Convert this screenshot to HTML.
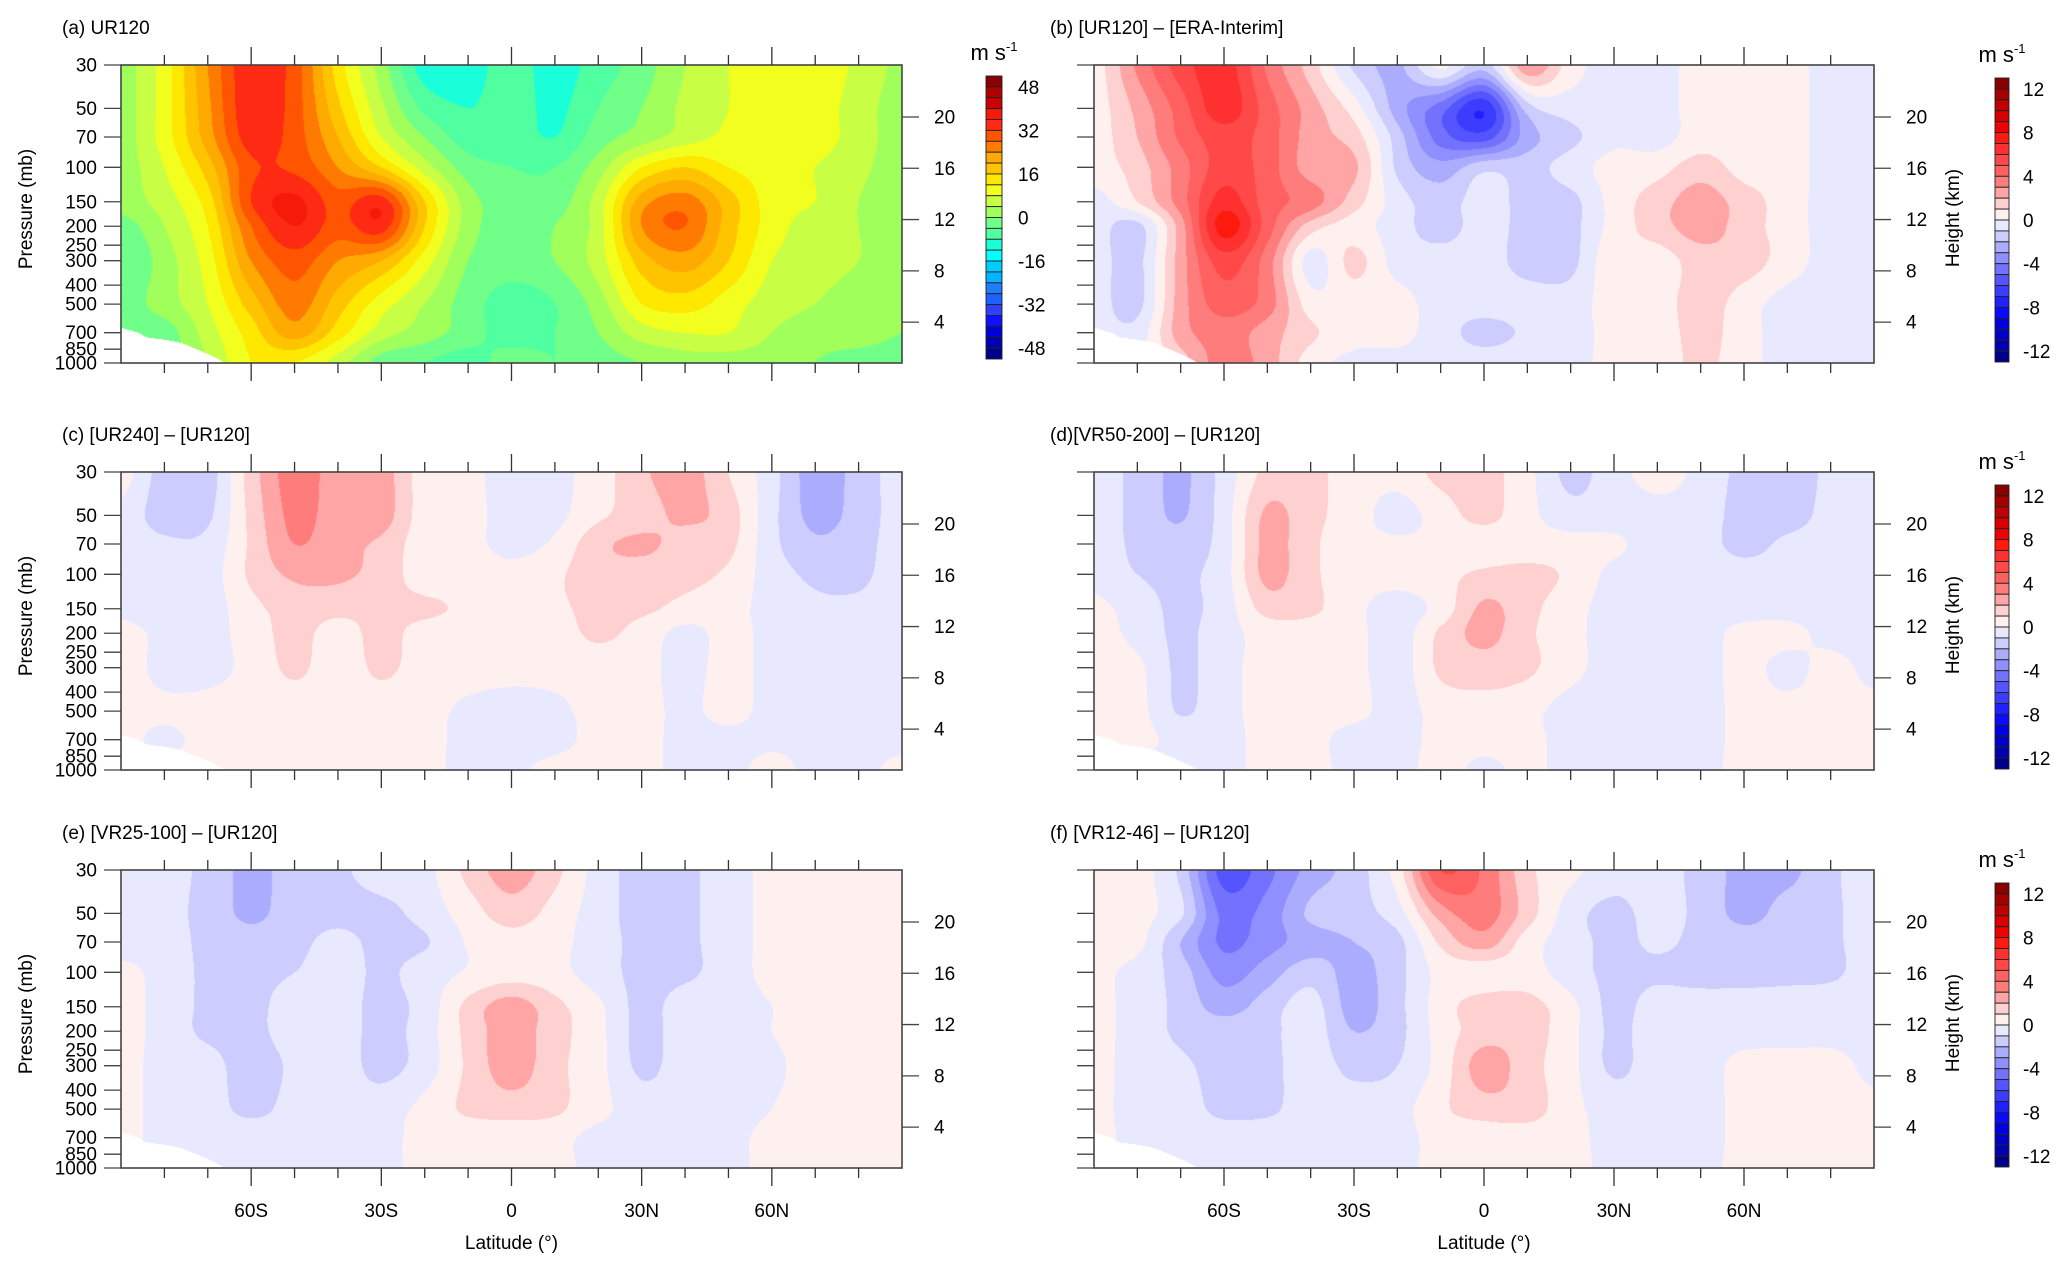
<!DOCTYPE html>
<html><head><meta charset="utf-8">
<style>
html,body{margin:0;padding:0;background:#fff;}
#root{position:relative;width:2067px;height:1270px;overflow:hidden;background:#fff;font-family:"Liberation Sans",sans-serif;}
canvas{position:absolute;}
svg{position:absolute;left:0;top:0;}
</style></head>
<body>
<div id="root">
<svg id="ov" width="2067" height="1270"></svg>
</div>
<script>
// ---- data ----
const lats = [-90,-80,-70,-60,-50,-40,-30,-20,-10,0,10,20,30,40,50,60,70,80,90];
const levels = [30,50,70,100,150,200,300,500,700,1000];
const pTicks = [30,50,70,100,150,200,250,300,400,500,700,850,1000];
const hTicks = [4,8,12,16,20];
const latTicks = [-80,-70,-60,-50,-40,-30,-20,-10,0,10,20,30,40,50,60,70,80];
const latMajor = [-60,-30,0,30,60];
const latLabels = ['60S','30S','0','30N','60N'];
const cbLabelsA = [48,32,16,0,-16,-32,-48];
const cbLabelsB = [12,8,4,0,-4,-8,-12];
const maskLats = [-90,-86,-84,-80,-76,-72,-70,-67,-66];
const maskP = [660,700,740,760,790,860,900,970,1005];
const colorsA = ['#8b0000','#b00000','#cc0000','#f51a0a','#ff2a14','#ff5500','#ff7a00','#ffaa00','#ffc400','#ffe800','#f2ff1e','#c8ff45','#a0ff5a','#70ff88','#50ffa0','#1affd9','#00ffff','#00ccff','#00b4ff','#1e7cff','#2060ff','#3040ff','#1010ff','#0000d8','#0000b0','#000090'];
const colorsB = ['#880000','#a50000','#c00000','#d80000','#f00000','#ff1a10','#ff3030','#ff4848','#ff6060','#ff7c7c','#ffa5a5','#ffd0d0','#fff0f0','#e8e8ff','#ccccff','#acacff','#8f8fff','#7272ff','#5555ff','#3c3cff','#2020ff','#0a0aff','#0000e0','#0000c8','#0000b0','#000088'];

const fieldA = [
[2,10,24,35,30,14,2,-10,-10,-6,-10,-6,-2,4,8,10,11,7,3],
[2,10,23,35,30,17,5,-5,-8,-6,-9,-4,0,5,8,10,10,6,2],
[2,10,22,34,30,20,8,0,-6,-6,-8,-2,2,6,9,10,10,6,2],
[2,8,18,31,31,24,16,6,-2,-4,-4,2,12,16,12,10,8,5,2],
[2,6,14,32,37,30,34,16,2,-2,-2,6,22,26,18,10,8,4,2],
[-2,4,12,28,36,30,34,16,2,-2,0,6,24,28,18,10,6,4,2],
[-4,2,10,24,30,24,20,10,0,-2,0,6,18,22,16,8,6,4,2],
[-2,2,8,18,26,18,10,4,-2,-6,-4,2,12,14,10,6,4,2,2],
[-2,-2,6,14,22,14,6,2,-2,-6,-4,0,6,8,8,4,2,2,0],
[-2,-2,4,12,12,6,-2,-4,-6,-2,-4,-2,0,2,2,2,0,-2,-2]];
const fieldB = [
[0.5,3.2,5.5,6.5,3.8,1.5,-1.2,-2.2,0.3,-1.5,2.8,0.5,-0.5,-0.5,0.5,0.5,0.5,-0.5,-0.5],
[0.5,2.3,4.5,6.6,4.5,2.5,0.5,-2.5,-4.5,-6.8,-1.5,-0.5,-0.5,-0.5,0.5,0.5,0.5,-0.5,-0.5],
[0.5,2.0,4.2,5.5,4.5,2.5,1.5,-1.5,-4.5,-5.5,-2.5,-1.3,-0.3,-0.4,0.5,0.5,0.5,-0.5,-0.5],
[0.5,1.5,3.5,5.5,4.5,2.5,2.2,-1.2,-2.6,-1.3,-1.4,-0.5,0.4,0.6,1.5,0.6,0.5,-0.5,-0.5],
[-0.4,1.0,3.5,6.5,4.5,3.5,1.5,-0.5,-1.5,-0.5,-1.4,-1.3,0.4,1.5,2.5,1.5,0.5,-0.4,-0.4],
[-0.5,-1.3,2.5,7.5,4.5,1.5,0.5,-0.5,-1.5,-0.5,-1.4,-1.3,0.4,1.5,2.5,1.5,0.5,-0.4,-0.4],
[-0.5,-1.3,2.5,5.5,3.5,-0.4,1.3,-0.4,-0.5,-0.5,-1.4,-1.3,0.8,0.5,1.5,1.5,0.5,-0.4,-0.4],
[-0.5,-1.3,2.5,4.5,3.5,0.5,0.4,0.4,-0.5,-0.5,-0.5,-0.5,0.5,0.5,1.5,0.5,-0.4,-0.4,-0.4],
[-0.5,-0.6,2.5,3.5,2.5,1.2,0.4,0.3,-0.5,-1.4,-0.8,-0.4,0.3,0.4,1.4,0.4,-0.4,-0.4,-0.4],
[-0.3,-0.3,1.5,3.5,2.5,0.5,-0.3,-0.3,-0.4,-0.4,-0.3,-0.3,0.3,0.3,1.3,0.3,-0.3,-0.3,-0.3]];
const fieldC = [
[0.5,-1.5,-1.5,1.5,3.5,2.5,2.5,0.5,0.3,-0.5,-0.3,0.5,1.8,2.5,1,-0.6,-2.5,-1.6,-0.5],
[-0.3,-1.5,-1.2,1.3,3.3,2.5,2.5,0.5,0.4,-0.5,-0.3,0.8,1.5,2.2,1.5,-0.7,-2.3,-1.6,-0.5],
[-0.3,-0.8,-0.7,1.2,3.0,2.3,1.8,0.4,0.3,-0.3,0.2,1.7,2.2,1.6,1.3,-0.7,-1.8,-1.4,-0.5],
[-0.3,-0.6,-0.5,1.2,2.2,2.2,1.6,0.5,0.6,0.3,0.8,1.6,1.5,1.3,0.8,-0.5,-1.2,-1.2,-0.5],
[-0.2,-0.5,-0.5,0.7,1.4,1.3,1.2,1.2,0.8,0.6,0.8,1.3,1.2,0.7,0.4,-0.4,-0.8,-0.8,-0.5],
[0.3,-0.2,-0.4,0.5,1.3,0.6,1.3,0.6,0.4,0.4,0.5,1.2,0.6,-0.3,0.3,-0.3,-0.6,-0.6,-0.5],
[0.5,-0.3,-0.3,0.3,1.2,0.4,1.2,0.5,0.4,0.3,0.3,0.4,0.3,-0.3,0.3,-0.3,-0.5,-0.5,-0.4],
[0.3,0.2,0.3,0.4,0.4,0.4,0.4,0.3,-0.2,-0.4,-0.2,0.3,0.3,-0.2,0.3,-0.3,-0.4,-0.4,-0.3],
[0.3,-0.2,0.3,0.3,0.3,0.3,0.3,0.3,-0.3,-0.4,-0.3,0.3,0.3,-0.3,-0.3,-0.2,-0.3,-0.3,-0.3],
[0.3,0.3,0.3,0.3,0.3,0.3,0.3,0.3,-0.3,-0.2,0.3,0.3,0.3,-0.3,-0.3,0.3,-0.3,-0.3,0.3]];
const fieldD = [
[-0.5,-1.3,-2.2,-0.6,1.3,1.3,0.5,0.4,1.3,1.4,0.3,-1.3,-0.4,0.4,-0.3,-1.3,-1.5,-0.8,-0.5],
[-0.5,-1.3,-2.1,-0.5,2.2,1.3,0.5,-0.4,0.5,1.3,0.3,-0.6,-0.5,-0.4,-0.5,-1.4,-1.4,-0.7,-0.5],
[-0.5,-1.2,-1.6,-0.5,2.3,1.2,0.4,0.2,0.3,0.4,0.4,0.4,0.2,-0.5,-0.6,-1.3,-0.8,-0.6,-0.5],
[-0.4,-1.0,-1.2,-0.4,2.3,1.2,0.5,0.4,0.7,1.2,1.3,0.8,-0.3,-0.5,-0.5,-0.6,-0.6,-0.5,-0.4],
[0.3,-0.5,-1.2,-0.5,1.4,1.2,0.3,-0.5,0.4,2.2,1.3,0.4,-0.4,-0.3,-0.4,-0.4,-0.4,-0.4,-0.4],
[0.4,-0.3,-1.2,-0.4,0.4,0.5,0.3,-0.5,1.2,2.3,1.2,0.3,-0.4,-0.4,-0.4,0.3,0.3,-0.3,-0.4],
[0.4,0.2,-1.2,-0.3,0.3,0.4,0.3,-0.5,1.2,1.5,1.2,0.3,-0.4,-0.4,-0.4,0.3,-0.3,0.3,-0.3],
[0.3,0.3,-1.1,-0.3,0.3,0.3,0.3,-0.4,0.4,0.6,0.3,-0.4,-0.4,-0.4,-0.4,0.3,0.3,0.3,0.3],
[0.3,0.3,-0.3,-0.3,0.3,0.3,-0.4,-0.4,0.3,0.3,0.3,-0.4,-0.4,-0.4,-0.4,0.3,0.3,0.3,0.3],
[0.3,-0.3,-0.3,-0.3,0.3,0.3,-0.3,-0.3,0.3,-0.2,0.2,-0.3,-0.3,-0.3,-0.3,0.3,0.3,0.3,0.3]];
const fieldE = [
[-0.5,-0.6,-1.3,-2.3,-1.5,-1.2,-0.5,-0.3,1.3,2.5,1.3,-0.4,-1.4,-1.2,-0.5,0.3,0.4,0.4,0.4],
[-0.5,-0.6,-1.4,-2.2,-1.5,-1.3,-1.3,-0.6,0.5,1.5,0.6,-0.5,-1.4,-1.2,-0.5,0.3,0.4,0.4,0.4],
[-0.5,-0.5,-1.3,-1.6,-1.3,-0.7,-1.3,-1.1,0.1,0.6,0.3,-0.5,-1.3,-1.2,-0.5,0.3,0.4,0.4,0.4],
[0.3,-0.4,-1.2,-1.3,-1.0,-0.5,-1.2,-0.5,0.1,0.5,0.3,-0.5,-1.3,-1.2,-0.5,0.3,0.4,0.4,0.4],
[0.4,-0.4,-1.2,-1.3,-0.5,-0.5,-1.3,-0.6,1.3,2.5,1.3,0.2,-1.3,-0.5,-0.5,0,0.4,0.4,0.4],
[0.4,-0.4,-1.2,-1.3,-0.5,-0.5,-1.3,-0.5,1.3,2.5,1.4,0.3,-1.3,-0.5,-0.5,0,0.4,0.4,0.4],
[0.4,-0.4,-0.6,-1.5,-0.8,-0.5,-1.3,-0.5,1.2,2.5,1.3,0.3,-1.2,-0.5,-0.5,-0.2,0.4,0.4,0.4],
[0.4,-0.4,-0.5,-1.3,-0.6,-0.5,-0.5,0.3,1.2,1.5,1.2,0.3,-0.5,-0.5,-0.5,0,0.4,0.4,0.4],
[0.3,-0.3,-0.3,-0.3,-0.3,-0.3,-0.3,0.3,0.3,0.3,0.3,-0.3,-0.3,-0.3,-0.3,0.3,0.3,0.3,0.3],
[0.3,-0.3,-0.3,-0.3,-0.3,-0.3,-0.3,0.3,0.3,0.3,0.3,-0.3,-0.3,-0.3,-0.3,0.3,0.3,0.3,0.3]];
const fieldF = [
[0.4,0.4,-1.3,-5.5,-4.3,-2.6,-1.5,0.5,5.0,3.8,1.3,0.3,-0.5,-0.5,-1.4,-2.3,-2.3,-1.2,-0.5],
[0.4,0.3,-0.8,-4.3,-3.6,-1.8,-1.4,-0.4,2.5,3.5,1.5,-0.5,-1.3,-0.6,-1.3,-2.3,-1.6,-1.2,-0.5],
[0.4,0.3,-2.0,-4.2,-3.4,-2.5,-2.0,-1.3,1.2,2.5,0.5,-0.5,-1.3,-0.8,-1.3,-1.5,-1.5,-1.2,-0.5],
[0.3,-0.4,-1.5,-3.4,-2.5,-1.4,-2.4,-1.3,0.3,0.4,0.4,-0.5,-1.3,-1.2,-1.4,-1.4,-1.3,-1.2,-0.5],
[0.3,-0.4,-1.3,-2.4,-1.5,-0.6,-2.4,-1.3,0.5,1.5,1.4,0.3,-1.3,-0.5,-0.5,-0.5,-0.5,-0.4,-0.4],
[0.3,-0.4,-1.2,-1.5,-1.3,-0.5,-2.0,-1.3,0.4,1.5,1.5,0.3,-1.2,-0.4,-0.4,-0.4,-0.4,-0.4,-0.4],
[0.3,-0.4,-0.8,-1.4,-1.3,-0.5,-1.3,-1.0,0.4,2.5,1.4,0.3,-1.2,-0.4,-0.4,0.3,0.4,0.4,-0.3],
[0.3,-0.4,-0.5,-1.3,-1.2,-0.5,-0.5,-0.4,0.8,1.5,1.5,0.3,-0.4,-0.4,-0.4,0.3,0.4,0.4,0.3],
[0.3,-0.3,-0.4,-0.4,-0.4,-0.4,-0.4,-0.4,0.4,0.4,0.4,0.3,-0.4,-0.4,-0.4,0.3,0.4,0.4,0.3],
[0.3,-0.3,-0.3,-0.3,-0.3,-0.3,-0.3,-0.3,0.3,0.3,0.3,0.3,-0.3,-0.3,-0.3,0.3,0.3,0.3,0.3]];

// ---- layout ----
const panels = [
 {id:'a', title:'(a) UR120', field:fieldA, scale:'A', x:121, y:65, w:781, h:298, col:0, row:0, cb:{x:986,y:76,w:16,h:283}},
 {id:'b', title:'(b) [UR120]  \u2013 [ERA-Interim]', field:fieldB, scale:'B', x:1094, y:65, w:780, h:298, col:1, row:0, cb:{x:1995,y:78,w:14,h:284}},
 {id:'c', title:'(c) [UR240] \u2013 [UR120]', field:fieldC, scale:'B', x:121, y:472, w:781, h:298, col:0, row:1, cb:null},
 {id:'d', title:'(d)[VR50-200] \u2013 [UR120]', field:fieldD, scale:'B', x:1094, y:472, w:780, h:298, col:1, row:1, cb:{x:1995,y:485,w:14,h:284}},
 {id:'e', title:'(e) [VR25-100] \u2013 [UR120]', field:fieldE, scale:'B', x:121, y:870, w:781, h:298, col:0, row:2, cb:null},
 {id:'f', title:'(f) [VR12-46] \u2013 [UR120]', field:fieldF, scale:'B', x:1094, y:870, w:780, h:298, col:1, row:2, cb:{x:1995,y:883,w:14,h:284}}
];
const LP0 = Math.log(30), LP1 = Math.log(1000);
const logLev = levels.map(Math.log);

function xOf(P, lat){ return P.x + (lat+90)/180*P.w; }
function yOf(P, p){ return P.y + (Math.log(p)-LP0)/(LP1-LP0)*P.h; }
function yH(P, h){ return P.y + 52 + (20-h)*12.82; }

function binIndex(scale, v){
  let k = scale==='A' ? Math.floor((48 - v)/4)+1 : Math.floor(12 - v)+1;
  return Math.max(0, Math.min(25, k));
}
function hex(c){ return [parseInt(c.slice(1,3),16),parseInt(c.slice(3,5),16),parseInt(c.slice(5,7),16)]; }
const rgbA = colorsA.map(hex), rgbB = colorsB.map(hex);

function surfP(lat){
  if (lat >= maskLats[maskLats.length-1]) return 2000;
  for (let i=0;i<maskLats.length-1;i++){
    if (lat>=maskLats[i] && lat<maskLats[i+1]){
      const t=(lat-maskLats[i])/(maskLats[i+1]-maskLats[i]);
      return maskP[i]+t*(maskP[i+1]-maskP[i]);
    }
  }
  return maskP[0];
}
function cr(p0,p1,p2,p3,t){
  const t2=t*t,t3=t2*t;
  return 0.5*((2*p1)+(-p0+p2)*t+(2*p0-5*p1+4*p2-p3)*t2+(-p0+3*p1-3*p2+p3)*t3);
}
function sample(field, lat, lp){
  const nx=lats.length, ny=logLev.length;
  let fi=(lat+90)/10; fi=Math.max(0,Math.min(nx-1.0001,fi));
  const i=Math.floor(fi), tx=fi-i;
  let j=0; while (j<ny-2 && lp>logLev[j+1]) j++;
  let ty=(lp-logLev[j])/(logLev[j+1]-logLev[j]); ty=Math.max(0,Math.min(1,ty));
  const ci=k=>Math.max(0,Math.min(nx-1,k)), cj=k=>Math.max(0,Math.min(ny-1,k));
  const rows=[];
  for (let dj=-1;dj<=2;dj++){
    const r=field[cj(j+dj)];
    rows.push(cr(r[ci(i-1)],r[ci(i)],r[ci(i+1)],r[ci(i+2)],tx));
  }
  // non-uniform spacing in log p: use parametric t
  return cr(rows[0],rows[1],rows[2],rows[3],ty);
}

const root = document.getElementById('root');
const svg = document.getElementById('ov');
const NS = 'http://www.w3.org/2000/svg';
function mk(tag, attrs, parent){
  const e=document.createElementNS(NS,tag);
  for (const k in attrs) e.setAttribute(k, attrs[k]);
  (parent||svg).appendChild(e); return e;
}
function txt(s, x, y, size, anchor, parent){
  const t=mk('text',{x:x,y:y,'font-size':size,'text-anchor':anchor||'start','font-family':'Liberation Sans, sans-serif',fill:'#000'},parent);
  t.textContent=s; return t;
}

panels.forEach(P=>{
  const cv=document.createElement('canvas');
  cv.width=P.w; cv.height=P.h;
  cv.style.left=P.x+'px'; cv.style.top=P.y+'px';
  
  
  root.insertBefore(cv, svg);
  const ctx=cv.getContext('2d');
  const img=ctx.createImageData(P.w,P.h);
  const pal = P.scale==='A'?rgbA:rgbB;
  for (let py=0;py<P.h;py++){
    const lp=LP0+(py+0.5)/P.h*(LP1-LP0), p=Math.exp(lp);
    for (let px=0;px<P.w;px++){
      const lat=-90+(px+0.5)/P.w*180;
      const o=(py*P.w+px)*4;
      let c;
      if (p>surfP(lat)) c=[255,255,255];
      else c=pal[binIndex(P.scale, sample(P.field,lat,lp))];
      img.data[o]=c[0]; img.data[o+1]=c[1]; img.data[o+2]=c[2]; img.data[o+3]=255;
    }
  }
  ctx.putImageData(img,0,0);

  const g=mk('g',{});
  
  

  const frame=mk('rect',{x:P.x,y:P.y,width:P.w,height:P.h,fill:'none',stroke:'#444','stroke-width':1.6},g);
  
  

  const title=txt(P.title, P.col===0?62:1050, P.y-31, 19, 'start', g);
  
  

  latTicks.forEach(L=>{
    const x=xOf(P,L), len=latMajor.includes(L)?18:10;
    const t1=mk('line',{x1:x,y1:P.y,x2:x,y2:P.y-len,stroke:'#333','stroke-width':1.3},g);
    
    
    const t2=mk('line',{x1:x,y1:P.y+P.h,x2:x,y2:P.y+P.h+len,stroke:'#333','stroke-width':1.3},g);
    
    
  });
  pTicks.forEach(p=>{
    const y=yOf(P,p);
    const t=mk('line',{x1:P.x,y1:y,x2:P.x-17,y2:y,stroke:'#444','stroke-width':1.3},g);
    
    
    if (P.col===0){
      const l=txt(String(p), P.x-24, y+6.5, 19, 'end', g);
      
      
    }
  });
  hTicks.forEach(h=>{
    const y=yH(P,h);
    const t=mk('line',{x1:P.x+P.w,y1:y,x2:P.x+P.w+17,y2:y,stroke:'#444','stroke-width':1.3},g);
    
    
    const l=txt(String(h), P.x+P.w+32, y+6.5, 19, 'start', g);
    
    
  });
  if (P.col===0){
    const yl=txt('Pressure (mb)', 0, 0, 19, 'middle', g);
    yl.setAttribute('transform','translate(32,'+(P.y+144)+') rotate(-90)');
    
    
  } else {
    const yl=txt('Height (km)', 0, 0, 19, 'middle', g);
    yl.setAttribute('transform','translate(1959,'+(P.y+153)+') rotate(-90)');
    
    
  }
  if (P.row===2){
    latMajor.forEach((L,i)=>{
      const l=txt(latLabels[i], xOf(P,L), P.y+P.h+49, 19, 'middle', g);
      
      
    });
    const xl=txt('Latitude (\u00b0)', P.x+P.w/2, P.y+P.h+81, 19, 'middle', g);
    
    
  }
  if (P.cb){
    const cb=P.cb, cols=P.scale==='A'?colorsA:colorsB, labs=P.scale==='A'?cbLabelsA:cbLabelsB;
    const cg=mk('g',{},g);
    
    
    const bh=cb.h/cols.length;
    cols.forEach((c,k)=>{
      const r=mk('rect',{x:cb.x,y:cb.y+k*bh,width:cb.w,height:bh,fill:c,stroke:'#222','stroke-width':0.9},cg);
      
      
    });
    labs.forEach(v=>{
      const k=binIndex(P.scale, v - 1e-6);
      const y=cb.y+k*bh;
      const l=txt(String(v), cb.x+cb.w+(P.scale==='A'?16:14), y+7, 19, 'start', cg);
      
      
    });
    const u=mk('text',{x:cb.x+cb.w/2,y:cb.y-16,'font-size':22,'text-anchor':'middle','font-family':'Liberation Sans, sans-serif'},cg);
    
    
    u.textContent='m s';
    const sup=mk('tspan',{dy:-9,'font-size':13},u);
    sup.textContent='-1';
  }
});
</script>
</body></html>
